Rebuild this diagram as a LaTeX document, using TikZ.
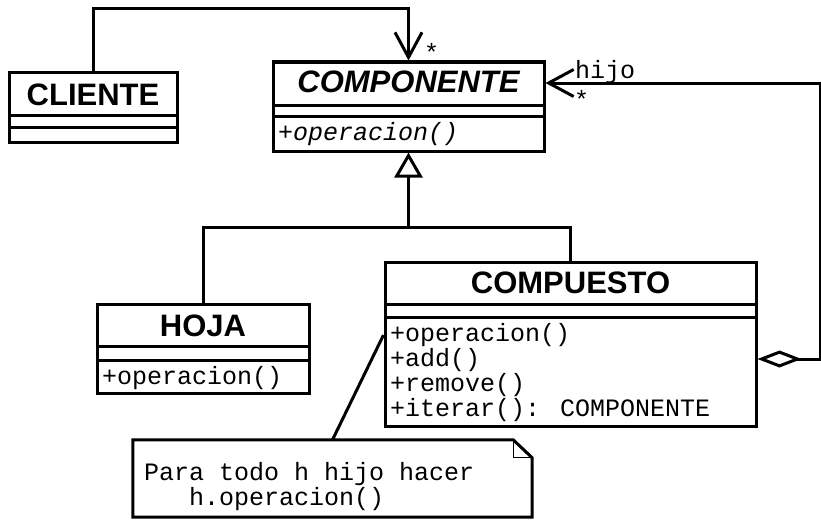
\documentclass[tikz,border=0pt]{standalone}
\usepackage{fontspec}
\usetikzlibrary{arrows.meta}
\newfontfamily\umlsans{Liberation Sans}
\newfontfamily\umlmono{Liberation Mono}

\tikzset{
  umlbox/.style={draw, line width=3pt, fill=white, inner sep=0pt},
  umltitle/.style={font=\umlsans\bfseries\fontsize{31}{36}\selectfont, inner sep=0pt, anchor=base},
  umlitem/.style={font=\umlmono\fontsize{25}{25}\selectfont, inner sep=0pt, anchor=base west},
  divider/.style={line width=3pt},
  link/.style={line width=3pt},
  foldline/.style={line width=1.2pt},
  navarrow/.style={-{Straight Barb[length=25pt,width=27pt,line width=3pt]}},
  inherit/.style={-{Triangle[fill=white,length=25pt,width=28pt,line width=3pt]}},
  aggnav/.style={{Diamond[fill=white,length=44pt,width=17pt,line width=3pt]}-{Straight Barb[length=25pt,width=27pt,line width=3pt]}}
}

\begin{document}
\begin{tikzpicture}[x=1pt,y=-1pt]
\useasboundingbox (0,0) rectangle (821,519);

% class boxes
\node[umlbox, minimum width=168pt, minimum height=70pt]  (cliente)    at (93,107)     {};
\node[umlbox, minimum width=271pt, minimum height=89pt]  (componente) at (408.5,106.5) {};
\node[umlbox, minimum width=212pt, minimum height=89pt]  (hoja)       at (203,348.5)  {};
\node[umlbox, minimum width=371pt, minimum height=164pt] (compuesto)  at (570.5,344)  {};

% compartments
\draw[divider] ([yshift=-45pt]cliente.north west) -- ([yshift=-45pt]cliente.north east);
\draw[divider] ([yshift=-57pt]cliente.north west) -- ([yshift=-57pt]cliente.north east);
\draw[divider] ([yshift=-45pt]componente.north west) -- ([yshift=-45pt]componente.north east);
\draw[divider] ([yshift=-56pt]componente.north west) -- ([yshift=-56pt]componente.north east);
\draw[divider] ([yshift=-44pt]hoja.north west) -- ([yshift=-44pt]hoja.north east);
\draw[divider] ([yshift=-58pt]hoja.north west) -- ([yshift=-58pt]hoja.north east);
\draw[divider] ([yshift=-44pt]compuesto.north west) -- ([yshift=-44pt]compuesto.north east);
\draw[divider] ([yshift=-57pt]compuesto.north west) -- ([yshift=-57pt]compuesto.north east);

% class names
\node[umltitle] (tcliente)    at (93,105)    {CLIENTE};
\node[umltitle] (tcomponente) at (408.5,92)  {\itshape COMPONENTE};
\node[umltitle] (thoja)       at (203,336)   {HOJA};
\node[umltitle] (tcompuesto)  at (570.5,293) {COMPUESTO};

% operations
\node[umlitem] (opcomp) at (278,140) {\itshape +operacion()};
\node[umlitem] (ophoja) at (102,384) {+operacion()};
\node[umlitem] (op1) at (390,341) {+operacion()};
\node[umlitem] (op2) at (390,366) {+add()};
\node[umlitem] (op3) at (390,391) {+remove()};
\node[umlitem] (op4) at (390,416) {+iterar(): COMPONENTE};

% note
\node[minimum width=399pt, minimum height=77pt, inner sep=0pt] (note) at (332.5,478.5) {};
\draw[link, line join=miter] (note.north west) -- ([xshift=-19pt]note.north east)
  -- ([yshift=-18pt]note.north east) -- (note.south east) -- (note.south west) -- cycle;
\draw[foldline] ([xshift=-19pt]note.north east) -- ([xshift=-19pt,yshift=-18pt]note.north east)
  -- ([yshift=-18pt]note.north east);
\node[umlitem] (notea) at (144,480) {Para todo h hijo hacer};
\node[umlitem] (noteb) at (189,505) {h.operacion()};
\draw[link] ([yshift=9pt]compuesto.west) -- (note.north);

% association from CLIENTE
\draw[link, navarrow] (cliente.north) -- ++(0,-62) -| (componente.north);
\node[umlitem] (mult1) at (424,61) {*};

% generalization
\coordinate (join) at (408.5,227);
\draw[link] (hoja.north) |- (join) -| (compuesto.north);
\draw[link, inherit] (join) -- (componente.south);

% aggregation hijo
\draw[link, aggnav] ([yshift=-15pt]compuesto.east) -- ++(63,0)
  |- ([yshift=23.5pt]componente.east);
\node[umlitem] (rolehijo) at (575,78) {hijo};
\node[umlitem] (mult2) at (574,108) {*};
\end{tikzpicture}
\end{document}
